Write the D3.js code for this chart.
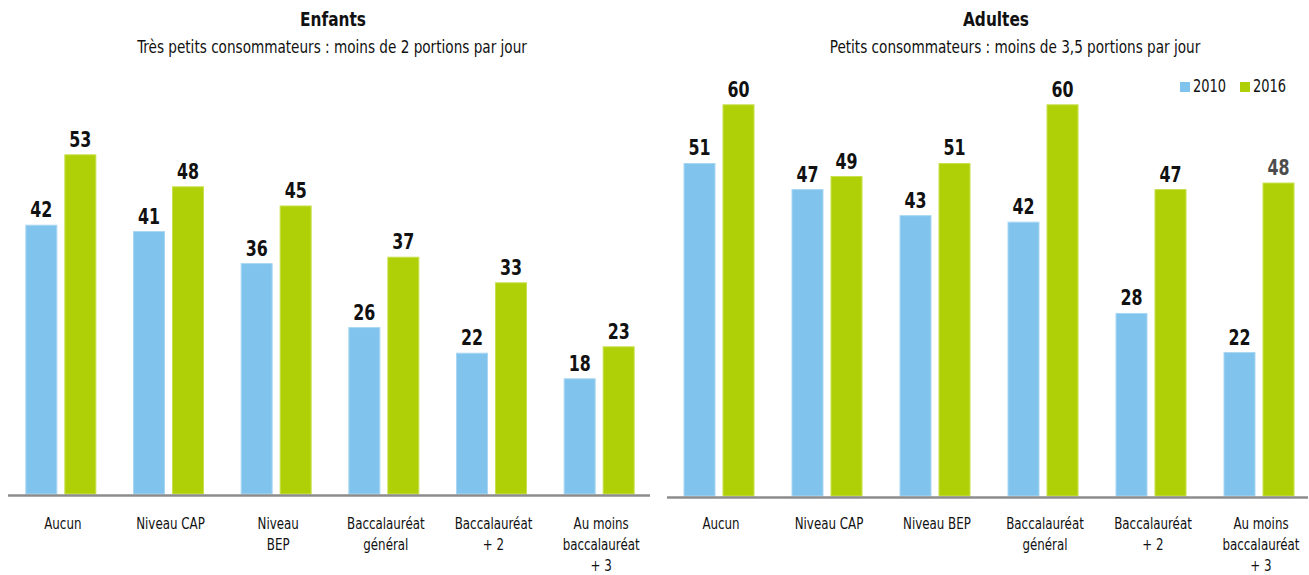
<!DOCTYPE html>
<meta charset="utf-8">
<style>
  body { margin: 0; background: #fff; }
  text { font-family: "DejaVu Sans Condensed", "Liberation Sans Narrow", "Arial Narrow", sans-serif; fill: #111; }
</style>
<body>
<svg id="chart" width="1309" height="575"></svg>
<script src="https://cdn.jsdelivr.net/npm/d3@7"></script>
<script>

// data
var categories = ["Aucun", "Niveau CAP", "Niveau BEP", "Baccalauréat général", "Baccalauréat + 2", "Au moins baccalauréat + 3"];
var leftLabels = [["Aucun"], ["Niveau CAP"], ["Niveau", "BEP"], ["Baccalauréat", "général"], ["Baccalauréat", "+ 2"], ["Au moins", "baccalauréat", "+ 3"]];
var rightLabels = [["Aucun"], ["Niveau CAP"], ["Niveau BEP"], ["Baccalauréat", "général"], ["Baccalauréat", "+ 2"], ["Au moins", "baccalauréat", "+ 3"]];
var years = ["2010", "2016"];
var enfants2010 = [42, 41, 36, 26, 22, 18];
var enfants2016 = [53, 48, 45, 37, 33, 23];
var adultes2010 = [51, 47, 43, 42, 28, 22];
var adultes2016 = [60, 49, 51, 60, 47, 48];

var color = d3.scaleOrdinal().domain(years).range(["#80c3ec", "#afcf07"]);
var edge = d3.scaleOrdinal().domain(years).range(["#a9d7f3", "#c9e04f"]);

var svg = d3.select("#chart");

// the original font is a narrow one, squeeze the condensed font a bit
function place(x, y, sx) {
  return "translate(" + x + "," + y + ") scale(" + sx + ",1)";
}

function panel(opt) {
  var g = svg.append("g");

  var x0 = d3.scaleBand().domain(categories).range(opt.xRange);
  var x1 = d3.scaleBand().domain(years).range([-35, 35]).paddingInner(0.205);
  var y = d3.scaleLinear().domain([0, 60]).range([opt.base, opt.base - 60 * opt.k]);

  var rows = categories.map(function(c, i) {
    return { cat: c, vals: [
      { year: "2010", v: opt.s2010[i] },
      { year: "2016", v: opt.s2016[i] }
    ] };
  });

  var grp = g.selectAll("g.grp")
    .data(rows)
    .enter().append("g")
      .attr("class", "grp")
      .attr("transform", function(d) { return "translate(" + (x0(d.cat) + x0.bandwidth() / 2) + ",0)"; });

  grp.selectAll("rect")
    .data(function(d) { return d.vals; })
    .enter().append("rect")
      .attr("x", function(d) { return x1(d.year); })
      .attr("y", function(d) { return y(d.v); })
      .attr("width", x1.bandwidth())
      .attr("height", function(d) { return y(0) - y(d.v); })
      .attr("fill", function(d) { return color(d.year); })
      .attr("stroke", function(d) { return edge(d.year); })
      .attr("stroke-width", 1);

  grp.selectAll("text.val")
    .data(function(d) { return d.vals; })
    .enter().append("text")
      .attr("class", "val")
      .attr("transform", function(d) { return place(x1(d.year) + x1.bandwidth() / 2, y(d.v) - 8, 0.84); })
      .attr("text-anchor", "middle")
      .style("font-size", "21px")
      .style("font-weight", "bold")
      .text(function(d) { return d.v; });

  // category labels, several lines
  grp.each(function(d, i) {
    var t = d3.select(this).append("text")
      .attr("text-anchor", "middle")
      .attr("transform", place(2, 529, 0.88))
      .style("font-size", "15px");
    opt.labels[i].forEach(function(line, j) {
      t.append("tspan").attr("x", 0).attr("dy", j === 0 ? 0 : 21).text(line);
    });
  });

  g.append("line")
    .attr("x1", opt.axis[0]).attr("x2", opt.axis[1])
    .attr("y1", opt.base + 1.5).attr("y2", opt.base + 1.5)
    .attr("stroke", "#8c8c8c")
    .attr("stroke-width", 2.5);

  g.append("text")
    .attr("transform", place(opt.titleX, 26, 0.9))
    .attr("text-anchor", "middle")
    .style("font-size", "19px").style("font-weight", "bold")
    .text(opt.title);

  g.append("text")
    .attr("transform", place(opt.subX, 53, 0.89))
    .attr("text-anchor", "middle")
    .style("font-size", "17px")
    .text(opt.subtitle);

  return g;
}

panel({
  xRange: [7, 653], base: 494, k: 6.4, axis: [8, 650],
  s2010: enfants2010, s2016: enfants2016, labels: leftLabels,
  title: "Enfants", titleX: 333,
  subtitle: "Très petits consommateurs : moins de 2 portions par jour", subX: 332
});

var right = panel({
  xRange: [665, 1313], base: 496, k: 6.52, axis: [667, 1308],
  s2010: adultes2010, s2016: adultes2016, labels: rightLabels,
  title: "Adultes", titleX: 996,
  subtitle: "Petits consommateurs : moins de 3,5 portions par jour", subX: 1015
});

// last value of the adult panel is printed in grey in the original
right.selectAll("text.val").filter(function(d) { return d.year === "2016" && d.v === 48; })
  .style("fill", "#4d4d4d");

// legend
var legend = svg.append("g").attr("transform", "translate(1180,92)");
var li = legend.selectAll("g")
  .data(years)
  .enter().append("g")
    .attr("transform", function(d, i) { return "translate(" + (i * 60) + ",0)"; });
li.append("rect")
  .attr("y", -10).attr("width", 10).attr("height", 10)
  .attr("fill", function(d) { return color(d); });
li.append("text")
  .attr("transform", place(13, 0, 0.85))
  .style("font-size", "17px")
  .text(function(d) { return d; });

</script>
</body>
